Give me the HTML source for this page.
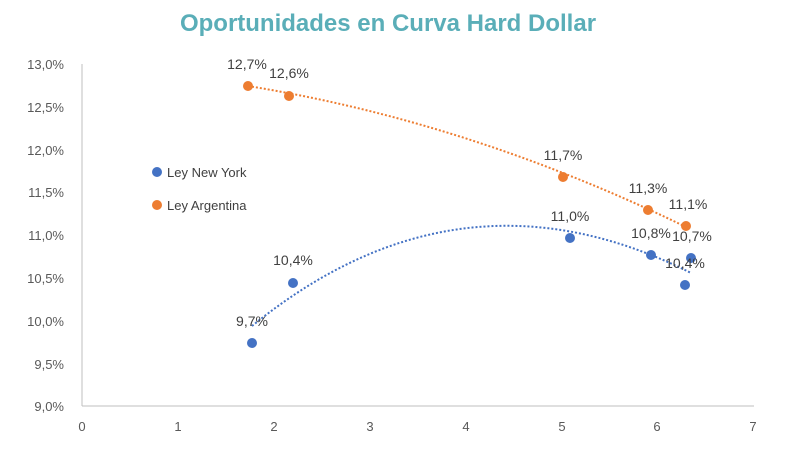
<!DOCTYPE html>
<html><head><meta charset="utf-8"><style>
html,body{margin:0;padding:0;background:#fff;}
svg{display:block;font-family:"Liberation Sans",sans-serif;}
</style></head><body>
<svg width="800" height="452" viewBox="0 0 800 452">
<text x="388" y="31" text-anchor="middle" font-size="24" font-weight="bold" fill="#5aaeb8">Oportunidades en Curva Hard Dollar</text>
<line x1="82" y1="64" x2="82" y2="406" stroke="#bfbfbf" stroke-width="1"/>
<line x1="82" y1="406" x2="754" y2="406" stroke="#bfbfbf" stroke-width="1"/>
<g font-size="13" fill="#595959" text-anchor="end">
<text x="64" y="69">13,0%</text><text x="64" y="112">12,5%</text><text x="64" y="155">12,0%</text>
<text x="64" y="197">11,5%</text><text x="64" y="240">11,0%</text><text x="64" y="283">10,5%</text>
<text x="64" y="326">10,0%</text><text x="64" y="369">9,5%</text><text x="64" y="411">9,0%</text>
</g>
<g font-size="13" fill="#595959" text-anchor="middle">
<text x="82" y="431">0</text><text x="178" y="431">1</text><text x="274" y="431">2</text><text x="370" y="431">3</text>
<text x="466" y="431">4</text><text x="562" y="431">5</text><text x="657" y="431">6</text><text x="753" y="431">7</text>
</g>
<path d="M248,86 Q470,122 686,227" fill="none" stroke="#ed7d31" stroke-width="2" stroke-dasharray="2,2"/>
<path d="M252,326 Q460,157 691,273" fill="none" stroke="#4472c4" stroke-width="2" stroke-dasharray="2,2"/>
<g fill="#ed7d31">
<circle cx="248" cy="86" r="5"/><circle cx="289" cy="96" r="5"/><circle cx="563" cy="177" r="5"/>
<circle cx="648" cy="210" r="5"/><circle cx="686" cy="226" r="5"/><circle cx="157" cy="205" r="5"/>
</g>
<g fill="#4472c4">
<circle cx="252" cy="343" r="5"/><circle cx="293" cy="283" r="5"/><circle cx="570" cy="238" r="5"/>
<circle cx="651" cy="255" r="5"/><circle cx="685" cy="285" r="5"/><circle cx="691" cy="258" r="5"/><circle cx="157" cy="172" r="5"/>
</g>
<g font-size="13" fill="#404040">
<text x="167" y="177">Ley New York</text><text x="167" y="210">Ley Argentina</text>
</g>
<g font-size="14" fill="#404040" text-anchor="middle">
<text x="247" y="69">12,7%</text><text x="289" y="78">12,6%</text><text x="563" y="160">11,7%</text>
<text x="648" y="193">11,3%</text><text x="688" y="209">11,1%</text>
<text x="252" y="326">9,7%</text><text x="293" y="265">10,4%</text><text x="570" y="221">11,0%</text>
<text x="651" y="238">10,8%</text><text x="692" y="241">10,7%</text><text x="685" y="268">10,4%</text>
</g>
</svg>
</body></html>
